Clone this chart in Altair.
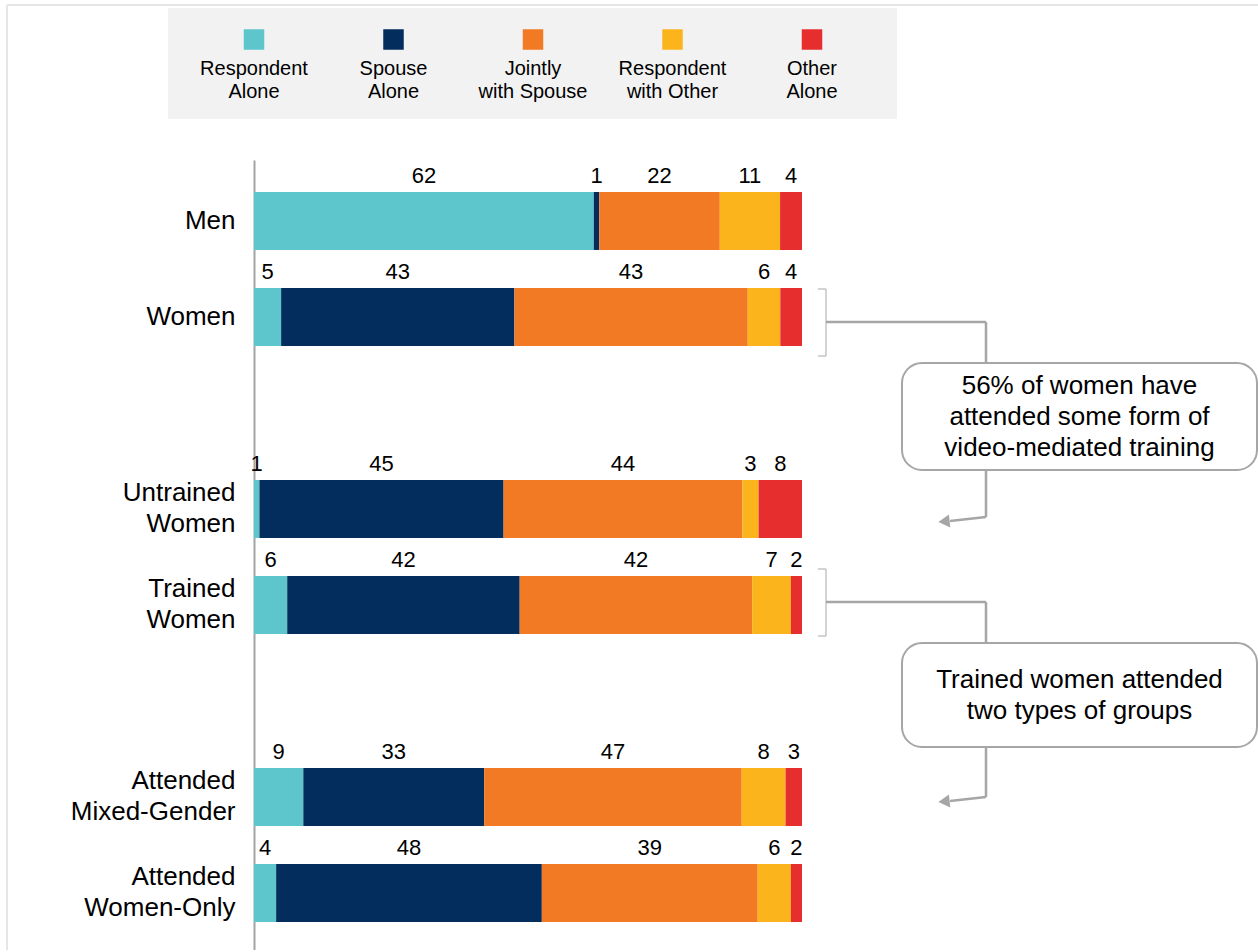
import altair as alt
import pandas as pd

# --- data -----------------------------------------------------------------
categories = ["Respondent Alone", "Spouse Alone", "Jointly with Spouse",
              "Respondent with Other", "Other Alone"]
legend_labels = ["Respondent\nAlone", "Spouse\nAlone", "Jointly\nwith Spouse",
                 "Respondent\nwith Other", "Other\nAlone"]
colors = ["#5cc6cc", "#022d5c", "#f37a24", "#fbb41c", "#e52e2d"]

rows = ["Men", "Women", "Untrained|Women", "Trained|Women",
        "Attended|Mixed-Gender", "Attended|Women-Only"]
gaps = [" ", "  "]
row_order = [rows[0], rows[1], gaps[0], rows[2], rows[3], gaps[1], rows[4], rows[5]]

men = [62, 1, 22, 11, 4]
women = [5, 43, 43, 6, 4]
untrained_women = [1, 45, 44, 3, 8]
trained_women = [6, 42, 42, 7, 2]
mixed_gender = [9, 33, 47, 8, 3]
women_only = [4, 48, 39, 6, 2]
series = [men, women, untrained_women, trained_women, mixed_gender, women_only]

note_training = "56% of women have\nattended some form of\nvideo-mediated training"
note_groups = "Trained women attended\ntwo types of groups"

FONT = "Liberation Sans"
GREY = "#a6a6a6"
LIGHT = "#c4c4c4"
NOTE_LINE = 31

records = []
for row, vals in zip(rows, series):
    for k, (cat, v) in enumerate(zip(categories, vals)):
        records.append({"row": row, "cat": cat, "k": k, "value": v})
df = pd.DataFrame(records)
legend_df = pd.DataFrame({"cat": categories, "label": legend_labels})
dummy = pd.DataFrame({"d": [0]})

# --- shared encodings -----------------------------------------------------
x_scale = alt.Scale(domain=[0, 1], nice=False, zero=True)
y_enc = alt.Y(
    "row:N",
    scale=alt.Scale(domain=row_order, paddingInner=0.396, paddingOuter=0.3125, align=0.533),
    axis=alt.Axis(
        title="", ticks=False, grid=False, domainColor="#a3a3a3", domainWidth=2,
        labelFontSize=26, labelFont=FONT, labelColor="#000000", labelPadding=19,
        labelLineHeight=31, labelLimit=400, labelExpr="split(datum.label, '|')",
        # two-line labels are centred on their band
        labelOffset={"condition": {"test": "indexof(datum.value, '|') >= 0", "value": -15.5},
                     "value": 0},
    ),
)
color_enc = alt.Color("cat:N", scale=alt.Scale(domain=categories, range=colors), legend=None)

stacked = alt.Chart(df).transform_stack(
    stack="value", groupby=["row"], as_=["x0", "x1"], offset="normalize",
    sort=[alt.SortField("k", order="ascending")],
).transform_calculate(mid="(datum.x0 + datum.x1) / 2")

bars = stacked.mark_bar().encode(
    x=alt.X("x0:Q", scale=x_scale, axis=None),
    x2="x1:Q",
    y=y_enc,
    color=color_enc,
)

values = stacked.mark_text(
    dy=-38, baseline="alphabetic", fontSize=22, font=FONT, color="#000000"
).encode(
    x=alt.X("mid:Q", scale=x_scale, axis=None),
    y=alt.Y("row:N"),
    text=alt.Text("value:Q"),
)

# --- legend ---------------------------------------------------------------
legend_x = alt.X("cat:N", scale=alt.Scale(type="point", domain=categories, range=[0, 558], padding=0), axis=None)

legend_bg = alt.Chart(dummy).mark_rect(color="#f2f2f2").encode(
    x=alt.value(-86), x2=alt.value(643), y=alt.value(-152), y2=alt.value(-41)
)
legend_swatch = alt.Chart(legend_df).mark_square(size=420, opacity=1).encode(
    x=legend_x, y=alt.value(-120.5), color=color_enc
)
legend_text = alt.Chart(legend_df).mark_text(
    baseline="top", align="center", fontSize=20, lineHeight=23, lineBreak="\n",
    font=FONT, color="#000000"
).encode(x=legend_x, y=alt.value(-101.5), text="label:N")


# --- annotations ----------------------------------------------------------
def seg(x1, y1, x2, y2, color=GREY, width=2.5):
    return alt.Chart(dummy).mark_rule(color=color, strokeWidth=width).encode(
        x=alt.value(x1), x2=alt.value(x2), y=alt.value(y1), y2=alt.value(y2)
    )


def callout(top, bottom, link_y, box_top, box_bottom, drop_y, text):
    first_line_y = (box_top + box_bottom) / 2 - text.count("\n") * NOTE_LINE / 2
    parts = [
        # bracket next to the bar
        seg(572, top, 572, bottom, LIGHT, 1.5),
        seg(564, top, 572, top, LIGHT, 1.5),
        seg(564, bottom, 572, bottom, LIGHT, 1.5),
        # connector into the box
        seg(572, link_y, 732, link_y),
        seg(732, link_y, 732, box_top),
        # connector out of the box towards the rows below
        seg(732, box_bottom, 732, drop_y),
        seg(732, drop_y, 696, drop_y + 4),
        alt.Chart(dummy).mark_point(shape="triangle-left", size=170, filled=True,
                                    color=GREY, opacity=1, angle=354).encode(
            x=alt.value(690), y=alt.value(drop_y + 4.5)
        ),
        alt.Chart(dummy).mark_rect(cornerRadius=20, fill="#ffffff", stroke=GREY,
                                   strokeWidth=2).encode(
            x=alt.value(648), x2=alt.value(1003), y=alt.value(box_top), y2=alt.value(box_bottom)
        ),
        alt.Chart(dummy).mark_text(
            fontSize=26, lineHeight=NOTE_LINE, lineBreak="\n", baseline="middle",
            align="center", font=FONT, color="#000000"
        ).encode(x=alt.value(825.5), y=alt.value(first_line_y), text=alt.value(text)),
    ]
    return parts


frame = [
    seg(-247, -155, 1004, -155, "#e6e6e6", 2),
    seg(-247, -155, -247, 790, "#e6e6e6", 2),
]

layers = (
    frame
    + [legend_bg, legend_swatch, legend_text, bars, values]
    + callout(129, 196, 162, 203, 310, 357, note_training)
    + callout(409, 476, 442, 483, 587, 637, note_groups)
)

chart = alt.layer(*layers).resolve_scale(x="independent").properties(
    width=548,
    height=790,
    autosize=alt.AutoSizeParams(type="none"),
    padding={"left": 254, "top": 160, "right": 456, "bottom": 0},
    background="#ffffff",
).configure_view(strokeWidth=0)

chart.save("out.html", embed_options={"renderer": "svg", "actions": False})
